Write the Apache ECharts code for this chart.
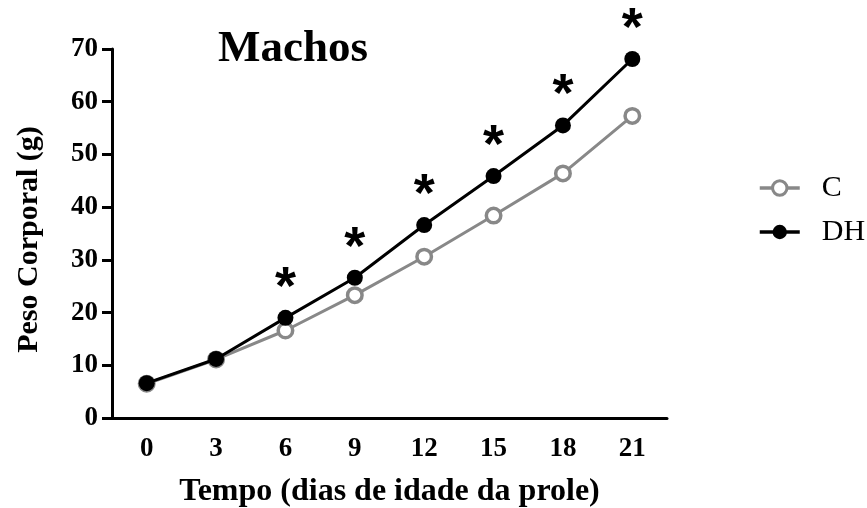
<!DOCTYPE html>
<html>
<head>
<meta charset="utf-8">
<script src="https://cdn.jsdelivr.net/npm/echarts@6/dist/echarts.min.js"></script>
<style>
  html, body { margin: 0; padding: 0; background: #fff; }
  #chart { width: 867px; height: 508px; }
</style>
</head>
<body>
<div id="chart"></div>
<script>
// Body weight of male offspring, days 0–21
const days = ['0', '3', '6', '9', '12', '15', '18', '21'];
const weightC = [6.5, 11.1, 16.6, 23.3, 30.6, 38.4, 46.4, 57.3];
const weightDH = [6.6, 11.2, 19.0, 26.6, 36.6, 45.9, 55.5, 68.1];
// significance marks shown above DH points
const significant = [false, false, true, true, true, true, true, true];
const yTicks = { min: 0, max: 70, step: 10 };

const serif = 'Liberation Serif';
const gray = '#888888';

const chart = echarts.init(document.getElementById('chart'), null, { renderer: 'canvas' });

chart.setOption({
  animation: false,
  backgroundColor: '#ffffff',
  title: {
    text: 'Machos',
    left: 218,
    top: 27,
    padding: 0,
    textStyle: { fontFamily: serif, fontWeight: 'bold', fontSize: 45, color: '#000' }
  },
  legend: {
    left: 758,
    top: 173,
    orient: 'vertical',
    padding: 0,
    itemGap: 14,
    itemWidth: 40,
    itemHeight: 18,
    textStyle: { fontFamily: serif, fontSize: 30, color: '#000', padding: [0, 0, 0, 17] },
    data: [
      { name: 'C', itemStyle: { color: '#fff', borderColor: gray, borderWidth: 3 }, lineStyle: { color: gray, width: 3.5 } },
      { name: 'DH', itemStyle: { color: '#000' }, lineStyle: { color: '#000', width: 3.5 } }
    ]
  },
  grid: { left: 112, right: 200, top: 49, bottom: 90, containLabel: false, outerBoundsMode: 'none' },
  xAxis: {
    type: 'category',
    data: days,
    boundaryGap: true,
    name: 'Tempo (dias de idade da prole)',
    nameLocation: 'middle',
    nameGap: 58,
    nameTextStyle: { fontFamily: serif, fontWeight: 'bold', fontSize: 32, color: '#000' },
    axisLine: { lineStyle: { color: '#000', width: 3 } },
    axisTick: { alignWithLabel: true, length: 10, lineStyle: { color: '#000', width: 3 } },
    axisLabel: { margin: 18, fontFamily: serif, fontWeight: 'bold', fontSize: 27, color: '#000' },
    splitLine: { show: false }
  },
  yAxis: {
    type: 'value',
    min: yTicks.min,
    max: yTicks.max,
    interval: yTicks.step,
    name: 'Peso Corporal (g)',
    nameLocation: 'middle',
    nameGap: 68,
    nameTextStyle: { fontFamily: serif, fontWeight: 'bold', fontSize: 30, color: '#000', padding: [0, 12, 0, 0] },
    axisLine: { show: true, lineStyle: { color: '#000', width: 3 } },
    axisTick: { show: true, length: 10, lineStyle: { color: '#000', width: 3 } },
    axisLabel: { margin: 14, fontFamily: serif, fontWeight: 'bold', fontSize: 27, color: '#000' },
    splitLine: { show: false }
  },
  series: [
    {
      name: 'C',
      type: 'line',
      data: weightC,
      symbol: 'circle',
      symbolSize: 14.5,
      lineStyle: { color: gray, width: 3 },
      itemStyle: { color: '#ffffff', borderColor: gray, borderWidth: 3.5 },
      z: 2
    },
    {
      name: 'DH',
      type: 'line',
      data: weightDH,
      symbol: 'circle',
      symbolSize: 16,
      lineStyle: { color: '#000', width: 3 },
      itemStyle: { color: '#000' },
      label: {
        show: true,
        position: 'top',
        distance: 0,
        offset: [0, 6],
        formatter: p => (significant[p.dataIndex] ? '*' : ''),
        fontFamily: 'Liberation Sans',
        fontWeight: 'bold',
        fontSize: 54,
        color: '#000'
      },
      z: 3
    }
  ]
});
</script>
</body>
</html>
